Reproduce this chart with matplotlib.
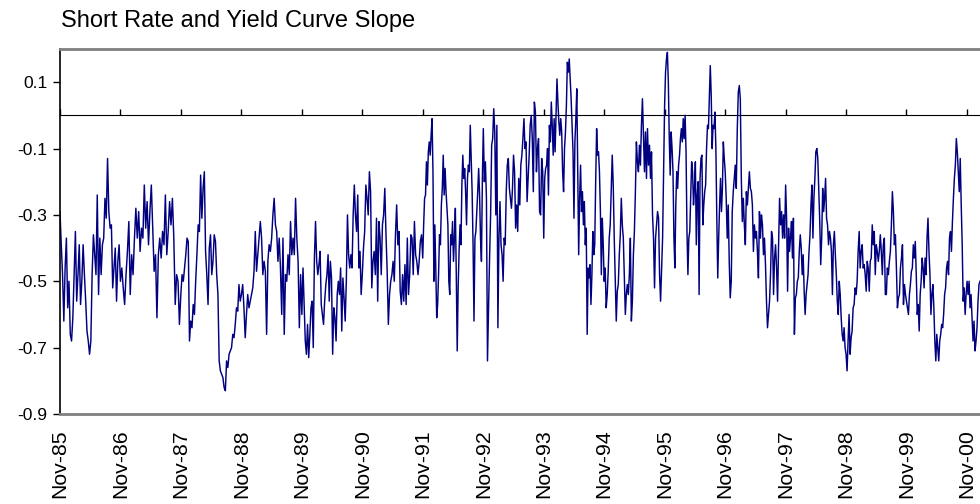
import numpy as np
import pandas as pd
import matplotlib
matplotlib.use('Agg')
import matplotlib.pyplot as plt

plt.rcParams['font.family'] = ['Liberation Sans', 'DejaVu Sans']

title = 'Short Rate and Yield Curve Slope'
line_color = '#000080'

# slope readings, one list per Nov-to-Nov year
yr_85 = [-0.29, -0.39, -0.48, -0.62, -0.46, -0.37, -0.58, -0.50, -0.66, -0.68, -0.61, -0.48,
         -0.35, -0.56, -0.48, -0.39, -0.57, -0.50, -0.39, -0.48, -0.56, -0.65, -0.68, -0.72,
         -0.68, -0.48, -0.36, -0.42, -0.48, -0.24, -0.54, -0.37, -0.48, -0.39, -0.37, -0.25,
         -0.31, -0.13, -0.29, -0.34, -0.33, -0.52, -0.46, -0.40, -0.56, -0.44, -0.39]
yr_86 = [-0.50, -0.46, -0.52, -0.57, -0.48, -0.41, -0.32, -0.54, -0.42, -0.48, -0.37, -0.28,
         -0.37, -0.29, -0.41, -0.34, -0.37, -0.21, -0.34, -0.26, -0.39, -0.29, -0.21, -0.34,
         -0.47, -0.42, -0.61, -0.42, -0.37, -0.43, -0.35, -0.39, -0.24, -0.42, -0.35, -0.26,
         -0.33, -0.25, -0.37, -0.57, -0.48, -0.50, -0.63]
yr_87 = [-0.54, -0.48, -0.50, -0.46, -0.42, -0.37, -0.38, -0.68, -0.62, -0.64, -0.57, -0.60,
         -0.50, -0.42, -0.33, -0.35, -0.18, -0.31, -0.22, -0.17, -0.41, -0.48, -0.57, -0.40,
         -0.36, -0.48, -0.44, -0.36, -0.38, -0.48, -0.54, -0.74, -0.77, -0.78, -0.79, -0.82,
         -0.83, -0.74, -0.76, -0.72, -0.71, -0.70, -0.66, -0.67, -0.63, -0.58, -0.59, -0.51,
         -0.56]
yr_88 = [-0.54, -0.51, -0.58, -0.67, -0.60, -0.54, -0.58, -0.56, -0.54, -0.52, -0.47, -0.35,
         -0.47, -0.42, -0.37, -0.32, -0.37, -0.48, -0.44, -0.47, -0.66, -0.44, -0.39, -0.41,
         -0.37, -0.30, -0.25, -0.33, -0.35, -0.44, -0.37, -0.46, -0.60, -0.37, -0.66, -0.48,
         -0.50, -0.42, -0.48, -0.32, -0.42, -0.37, -0.42, -0.25, -0.37, -0.44, -0.64, -0.48]
yr_89 = [-0.60, -0.46, -0.57, -0.68, -0.72, -0.63, -0.73, -0.66, -0.58, -0.56, -0.70, -0.43,
         -0.32, -0.44, -0.48, -0.45, -0.41, -0.57, -0.60, -0.63, -0.56, -0.51, -0.48, -0.42,
         -0.56, -0.44, -0.49, -0.72, -0.58, -0.61, -0.68, -0.54, -0.50, -0.54, -0.46, -0.65,
         -0.49, -0.55, -0.62, -0.50, -0.30, -0.42, -0.46, -0.42, -0.46, -0.30, -0.21, -0.30,
         -0.35, -0.24, -0.46, -0.41, -0.54]
yr_90 = [-0.48, -0.40, -0.35, -0.21, -0.25, -0.30, -0.17, -0.23, -0.52, -0.44, -0.41, -0.48,
         -0.31, -0.56, -0.32, -0.37, -0.48, -0.33, -0.30, -0.22, -0.36, -0.47, -0.63, -0.54,
         -0.50, -0.48, -0.44, -0.50, -0.36, -0.27, -0.39, -0.35, -0.53, -0.57, -0.48, -0.56,
         -0.45, -0.57, -0.37, -0.54, -0.48, -0.36, -0.37, -0.48, -0.32, -0.42, -0.44, -0.48,
         -0.44, -0.38, -0.36]
yr_91 = [-0.43, -0.33, -0.25, -0.24, -0.14, -0.21, -0.11, -0.08, -0.12, -0.06, -0.01, -0.17,
         -0.50, -0.33, -0.46, -0.61, -0.57, -0.48, -0.36, -0.39, -0.27, -0.22, -0.12, -0.24,
         -0.16, -0.23, -0.28, -0.33, -0.50, -0.54, -0.36, -0.39, -0.32, -0.44, -0.37, -0.28,
         -0.48, -0.71, -0.52, -0.41, -0.33, -0.39, -0.21, -0.12, -0.19, -0.16, -0.23, -0.33,
         -0.19, -0.15, -0.17, -0.03, -0.13, -0.23, -0.39, -0.62, -0.37, -0.35, -0.29, -0.23,
         -0.16, -0.24, -0.37, -0.44, -0.19]
yr_92 = [-0.04, -0.20, -0.14, -0.25, -0.74, -0.58, -0.43, -0.30, -0.09, -0.07, 0.02, -0.05,
         -0.30, -0.03, -0.64, -0.37, -0.26, -0.39, -0.42, -0.50, -0.37, -0.39, -0.23, -0.15,
         -0.13, -0.22, -0.25, -0.28, -0.22, -0.12, -0.17, -0.34, -0.27, -0.35, -0.19, -0.27,
         -0.15, -0.12, -0.07, -0.01, -0.10, -0.08, -0.26, -0.19, -0.12, -0.03, 0.00, -0.07,
         -0.23, 0.04, 0.01, -0.17, -0.10, -0.07, -0.29, -0.30, -0.13, -0.17]
yr_93 = [-0.37, -0.19, -0.16, -0.15, -0.10, -0.24, -0.03, -0.08, 0.04, -0.03, -0.12, -0.01,
         -0.11, 0.00, 0.11, 0.04, -0.02, -0.06, -0.01, -0.05, -0.17, -0.23, -0.10, -0.05,
         0.03, 0.16, 0.13, 0.17, 0.11, 0.05, -0.03, -0.11, -0.31, -0.08, -0.01, 0.08,
         -0.17, -0.42, -0.25, -0.15, -0.29, -0.23, -0.33, -0.26, -0.39, -0.34, -0.66, -0.46,
         -0.49, -0.45, -0.57, -0.48, -0.35, -0.42, -0.39, -0.20, -0.04, -0.12, -0.11, -0.17,
         -0.29, -0.48, -0.31, -0.39]
yr_94 = [-0.50, -0.46, -0.58, -0.54, -0.47, -0.37, -0.33, -0.23, -0.12, -0.21, -0.37, -0.49,
         -0.62, -0.53, -0.51, -0.42, -0.36, -0.25, -0.33, -0.37, -0.48, -0.60, -0.54, -0.51,
         -0.54, -0.48, -0.37, -0.62, -0.56, -0.42, -0.35, -0.23, -0.08, -0.14, -0.17, -0.09,
         -0.15, -0.03, 0.05, -0.06, -0.17, -0.05, -0.19, -0.04, -0.15, -0.09, -0.19, -0.11,
         -0.30, -0.37, -0.52, -0.37, -0.33, -0.29, -0.31, -0.48, -0.56, -0.46, -0.37, -0.17]
yr_95 = [0.03, 0.13, 0.17, 0.19, 0.10, -0.07, -0.18, -0.05, -0.10, -0.17, -0.37, -0.46,
         -0.27, -0.17, -0.22, -0.15, -0.12, -0.07, -0.04, -0.08, -0.01, -0.07, 0.00, -0.11,
         -0.35, -0.48, -0.37, -0.35, -0.25, -0.14, -0.17, -0.27, -0.22, -0.14, -0.39, -0.24,
         -0.20, -0.54, -0.19, -0.13, -0.12, -0.33, -0.27, -0.23, -0.21, -0.10, -0.03, -0.04,
         0.05, 0.15, 0.06, -0.10, -0.03, -0.04, 0.01, -0.10, -0.31, -0.49, -0.37, -0.27,
         -0.19, -0.29, -0.22, -0.08, -0.13]
yr_96 = [-0.17, -0.25, -0.37, -0.27, -0.44, -0.55, -0.50, -0.29, -0.23, -0.19, -0.15, -0.22,
         -0.04, 0.07, 0.09, 0.05, -0.19, -0.32, -0.25, -0.33, -0.39, -0.23, -0.27, -0.22,
         -0.17, -0.22, -0.23, -0.27, -0.41, -0.33, -0.37, -0.35, -0.41, -0.49, -0.29, -0.37,
         -0.30, -0.33, -0.42, -0.37, -0.45, -0.56, -0.64, -0.60, -0.56, -0.48, -0.35, -0.37,
         -0.54, -0.43, -0.39, -0.46, -0.56, -0.39, -0.25, -0.33, -0.29, -0.37, -0.30, -0.37]
yr_97 = [-0.21, -0.31, -0.53, -0.34, -0.41, -0.37, -0.32, -0.43, -0.31, -0.66, -0.55, -0.54,
         -0.50, -0.49, -0.41, -0.36, -0.40, -0.48, -0.42, -0.53, -0.60, -0.54, -0.51, -0.48,
         -0.41, -0.36, -0.27, -0.21, -0.37, -0.25, -0.19, -0.11, -0.10, -0.13, -0.23, -0.32,
         -0.45, -0.37, -0.22, -0.29, -0.25, -0.19, -0.31, -0.33, -0.39, -0.35, -0.37, -0.41,
         -0.54, -0.39, -0.35, -0.42, -0.48, -0.56, -0.60, -0.50, -0.54, -0.61, -0.66, -0.68,
         -0.64, -0.70]
yr_98 = [-0.72, -0.77, -0.68, -0.60, -0.72, -0.67, -0.65, -0.58, -0.57, -0.52, -0.54, -0.50,
         -0.41, -0.35, -0.46, -0.41, -0.39, -0.46, -0.45, -0.48, -0.53, -0.44, -0.46, -0.53,
         -0.44, -0.43, -0.33, -0.39, -0.35, -0.48, -0.39, -0.41, -0.44, -0.41, -0.36, -0.41,
         -0.48, -0.39, -0.37, -0.54, -0.54, -0.46, -0.48, -0.44, -0.41, -0.33, -0.23, -0.29,
         -0.39, -0.36, -0.46, -0.58, -0.55, -0.54, -0.46, -0.43, -0.39, -0.57, -0.51, -0.54]
yr_99 = [-0.56, -0.58, -0.60, -0.54, -0.51, -0.47, -0.46, -0.39, -0.43, -0.38, -0.48, -0.60,
         -0.57, -0.65, -0.54, -0.50, -0.43, -0.46, -0.52, -0.43, -0.48, -0.37, -0.31, -0.41,
         -0.48, -0.60, -0.54, -0.51, -0.58, -0.68, -0.74, -0.66, -0.70, -0.74, -0.68, -0.66,
         -0.63, -0.64, -0.60, -0.54, -0.52, -0.46, -0.44, -0.48, -0.37, -0.35, -0.41, -0.32,
         -0.25, -0.19, -0.15, -0.07, -0.11, -0.17, -0.23, -0.13, -0.27, -0.39, -0.56, -0.52,
         -0.60, -0.54]
yr_00 = [-0.50, -0.54, -0.50, -0.58, -0.54, -0.61, -0.68, -0.62, -0.71, -0.68, -0.64, -0.56,
         -0.51, -0.50]  # Nov-00 to mid Jan-01

segments = [yr_85, yr_86, yr_87, yr_88, yr_89, yr_90, yr_91, yr_92,
            yr_93, yr_94, yr_95, yr_96, yr_97, yr_98, yr_99, yr_00]
start_years = list(range(1985, 2001))
last_date = pd.Timestamp('2001-01-18')

# spread each year's readings evenly over that year
dates, values = [], []
for yr, seg in zip(start_years, segments):
    start = pd.Timestamp(f'{yr}-11-01')
    if yr < 2000:
        d = pd.date_range(start, pd.Timestamp(f'{yr + 1}-11-01'), periods=len(seg) + 1)[:-1]
    else:
        d = pd.date_range(start, last_date, periods=len(seg))
    dates.extend(d)
    values.extend(seg)

tick_dates = [pd.Timestamp(f'{y}-11-01') for y in start_years]
tick_labels = [f'Nov-{y % 100:02d}' for y in start_years]
y_ticks = [-0.9, -0.7, -0.5, -0.3, -0.1, 0.1]
y_min, y_max = -0.9, 0.2

fig = plt.figure(figsize=(9.8, 5.04), dpi=100)
ax = fig.add_axes([0.0612, 0.1786, 0.9388, 0.7242])

ax.plot(dates, values, color=line_color, linewidth=1.05)

ax.set_xlim(tick_dates[0], last_date)
ax.set_ylim(y_min, y_max)

ax.set_yticks(y_ticks)
ax.set_yticklabels([f'{v:.1f}' for v in y_ticks], fontsize=12.5)
ax.tick_params(axis='y', direction='out', length=5, width=1, color='black', pad=4)

ax.set_xticks(tick_dates)
ax.set_xticklabels(tick_labels, rotation=90, fontsize=15.3)
ax.tick_params(axis='x', length=0, pad=11)

for side in ['top', 'bottom']:
    ax.spines[side].set_color('#808080')
    ax.spines[side].set_linewidth(2)
ax.spines['right'].set_visible(False)
ax.spines['left'].set_color('black')
ax.spines['left'].set_linewidth(1.2)

# category axis crosses at zero: line with tick marks, no labels
zero_frac = (0 - y_min) / (y_max - y_min)
sec = ax.secondary_xaxis(zero_frac)
sec.set_xticks(tick_dates)
sec.set_xticklabels([])
sec.tick_params(axis='x', direction='out', length=4, width=1, color='black')
sec.spines['bottom'].set_color('black')
sec.spines['bottom'].set_linewidth(1)

fig.text(0.062, 0.946, title, fontsize=17, ha='left', va='baseline')

fig.savefig('out.png', dpi=100)
